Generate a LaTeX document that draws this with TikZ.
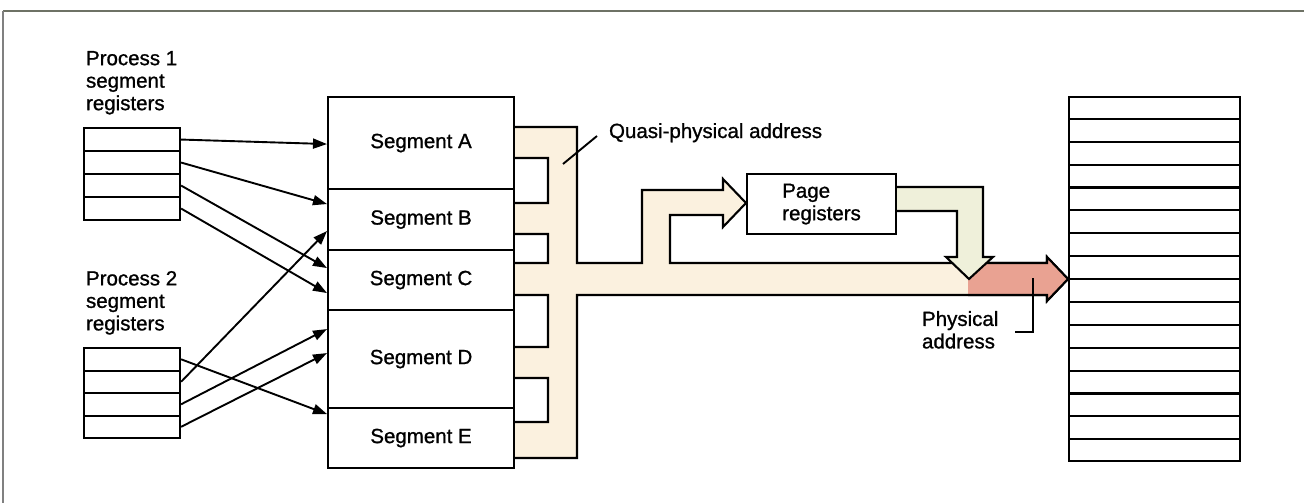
\documentclass[tikz,border=0pt]{standalone}
\usepackage{fontspec}
\setmainfont{Liberation Sans}
\newfontfamily\lblfont[FakeBold=1]{Liberation Sans}
\usetikzlibrary{arrows.meta,calc}
\definecolor{busfill}{HTML}{FBF1DF}
\definecolor{pagefill}{HTML}{EFF0DA}
\definecolor{pinkfill}{HTML}{E9A292}
\definecolor{framecol}{HTML}{6E7265}
\begin{document}
\begin{tikzpicture}[x=1pt,y=-1pt,
  line width=2.1pt, line join=miter,
  txt/.style={font=\lblfont\fontsize{20.5}{22.5}\selectfont, inner sep=0pt, align=left},
  regrow/.style={draw, fill=white, minimum width=96pt, inner sep=0pt, anchor=north west},
  segbox/.style={draw, fill=white, minimum width=186pt, inner sep=0pt, anchor=north west, font=\lblfont\fontsize{20.5}{22.5}\selectfont},
  conn/.style={-{Triangle[length=14pt,width=10pt]}, line width=1.9pt},
  leader/.style={line width=1.9pt}
]
\useasboundingbox (0,0) rectangle (1304,503);
% frame
\draw[framecol, line width=2.5pt] (3,11) -- (1304,11);
\draw[gray, line width=1.2pt] (3,11) -- (3,503);

% address bus (quasi-physical)
\draw[fill=busfill] (513,127) -- (577,127) -- (577,263) -- (642,263) -- (642,190) -- (723,190) -- (723,179) -- (746,203) -- (723,227) -- (723,215) -- (670,215) -- (670,263) -- (1047,263) -- (1047,257) -- (1068,279) -- (1047,301) -- (1047,295) -- (577,295) -- (577,458) -- (513,458) -- (513,422) -- (548,422) -- (548,378) -- (513,378) -- (513,347) -- (548,347) -- (548,295) -- (513,295) -- (513,263) -- (548,263) -- (548,234) -- (513,234) -- (513,203) -- (548,203) -- (548,158) -- (513,158) -- cycle;
% physical part (pink)
\fill[pinkfill] (968,263) -- (1047,263) -- (1047,257) -- (1068,279) -- (1047,301) -- (1047,295) -- (968,295) -- cycle;
\draw (968,263) -- (1047,263) -- (1047,257) -- (1068,279) -- (1047,301) -- (1047,295) -- (968,295);

% page register output arrow
\draw[fill=pagefill] (890,187) -- (983,187) -- (983,257) -- (993,257) -- (969,279) -- (946,257) -- (957,257) -- (957,211) -- (890,211);

% segment boxes
\node[segbox, minimum height=92pt] (segA) at (327,96) {Segment A};
\node[segbox, minimum height=61pt] (segB) at (327,188) {Segment B};
\node[segbox, minimum height=60pt] (segC) at (327,249) {Segment C};
\node[segbox, minimum height=98pt] (segD) at (327,309) {Segment D};
\node[segbox, minimum height=60pt] (segE) at (327,407) {Segment E};

% page registers
\node[draw, fill=white, anchor=north west, minimum width=149pt, minimum height=60pt, inner sep=0pt, txt] (page) at (746,173) {Page\\registers};

% memory
\node[draw, fill=white, anchor=north west, minimum width=171pt, minimum height=364pt, inner sep=0pt] (mem) at (1068,96) {};
\foreach \i in {1,...,15}
  \draw ($(mem.north west)!\i/16!(mem.south west)$) -- ($(mem.north east)!\i/16!(mem.south east)$);

% process 1 registers
\node[regrow, minimum height=23pt] (p1r1) at (83,127) {};
\node[regrow, minimum height=23pt] (p1r2) at (83,150) {};
\node[regrow, minimum height=23pt] (p1r3) at (83,173) {};
\node[regrow, minimum height=23pt] (p1r4) at (83,196) {};
% process 2 registers
\node[regrow, minimum height=22.5pt] (p2r1) at (83,347) {};
\node[regrow, minimum height=22.5pt] (p2r2) at (83,369.5) {};
\node[regrow, minimum height=22.5pt] (p2r3) at (83,392) {};
\node[regrow, minimum height=22.5pt] (p2r4) at (83,414.5) {};

% labels
\node[txt, anchor=north west] (lab1) at (85,50) {Process 1\\segment\\registers};
\node[txt, anchor=north west] (lab2) at (85,270) {Process 2\\segment\\registers};
\node[txt, anchor=base west] (qlab) at (608,138) {Quasi-physical address};
\node[txt, anchor=north west] (plab) at (921,310) {Physical\\address};

% leaders
\coordinate (q1) at (597,136);
\coordinate (q2) at (563,164);
\draw[leader] (q1) -- (q2);
\coordinate (ph1) at (1033,278);
\coordinate (ph2) at (1015,332);
\draw[leader] (ph1) |- (ph2);

% connectors
\draw[conn] (p1r1.east) -- ([yshift=-1pt]segA.west);
\draw[conn] (p1r2.east) -- ([yshift=15.5pt]segB.west);
\draw[conn] (p1r3.east) -- ([yshift=12pt]segC.west);
\draw[conn] (p1r4.east) -- ([yshift=-13pt]segC.west);
\draw[conn] (p2r1.east) -- ([yshift=24pt]segE.west);
\draw[conn] (p2r2.east) -- ([yshift=-11.5pt]segB.west);
\draw[conn] (p2r3.east) -- ([yshift=30pt]segD.west);
\draw[conn] (p2r4.east) -- ([yshift=6pt]segD.west);
\end{tikzpicture}
\end{document}
